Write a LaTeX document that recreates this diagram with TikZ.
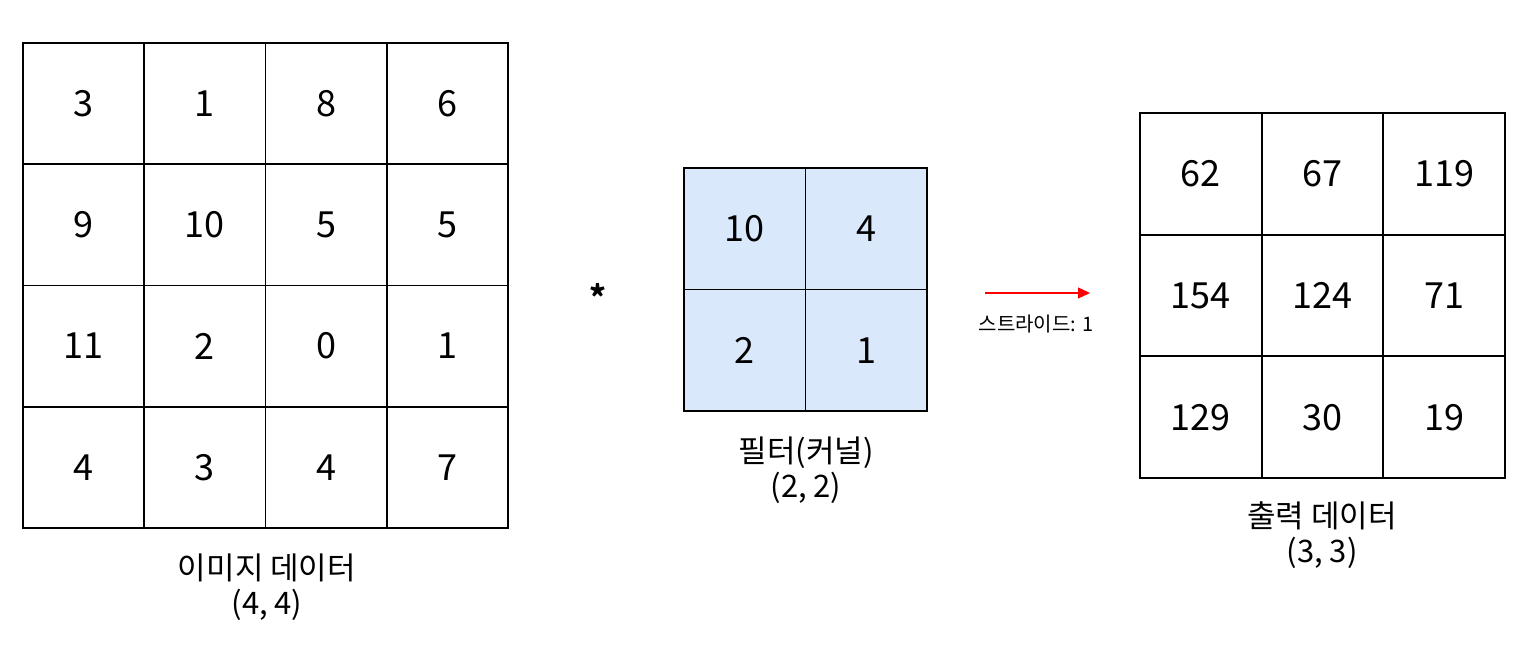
\documentclass[tikz,border=0pt]{standalone}
\usepackage{fontspec}
\setmainfont{Noto Sans CJK KR}
\usetikzlibrary{arrows.meta}
\definecolor{fcol}{HTML}{DAE8FC}
\definecolor{arrred}{HTML}{FF0000}
\begin{document}
\begin{tikzpicture}[x=1pt,y=-1pt,
  cell/.style={draw=black,line width=1.8pt,inner sep=0pt,anchor=center,
    font=\fontsize{36}{40}\selectfont},
  fcell/.style={cell,fill=fcol},
  lbl/.style={font=\fontsize{31}{35}\selectfont,align=center,inner sep=0pt}]
\fill[white] (0,0) rectangle (1526,658);
\useasboundingbox (0,0) rectangle (1526,658);
% image data 4x4
\foreach \v [count=\i from 0] in {3,1,8,6,9,10,5,5,11,2,0,1,4,3,4,7}{
  \pgfmathtruncatemacro{\r}{int(\i/4)}
  \pgfmathtruncatemacro{\c}{mod(\i,4)}
  \node[cell,minimum size=121.25pt] (img-\r-\c) at ({23+121.25*(\c+0.5)},{43+121.25*(\r+0.5)}) {\v};
}
% filter 2x2
\foreach \v [count=\i from 0] in {10,4,2,1}{
  \pgfmathtruncatemacro{\r}{int(\i/2)}
  \pgfmathtruncatemacro{\c}{mod(\i,2)}
  \node[fcell,minimum size=121.5pt] (flt-\r-\c) at ({684+121.5*(\c+0.5)},{168+121.5*(\r+0.5)}) {\v};
}
% output 3x3
\foreach \v [count=\i from 0] in {62,67,119,154,124,71,129,30,19}{
  \pgfmathtruncatemacro{\r}{int(\i/3)}
  \pgfmathtruncatemacro{\c}{mod(\i,3)}
  \node[cell,minimum size=121.67pt] (out-\r-\c) at ({1140+121.67*(\c+0.5)},{113+121.67*(\r+0.5)}) {\v};
}
% labels
\node[lbl] (imglbl) at (267,587) {이미지 데이터\\(4, 4)};
\node[lbl] (fltlbl) at (806,470) {필터(커널)\\(2, 2)};
\node[lbl] (outlbl) at (1322,535) {출력 데이터\\(3, 3)};
% asterisk
\node[font=\fontsize{32}{32}\selectfont\bfseries,inner sep=0pt] (star) at (598,296) {*};
% stride arrow
\coordinate (as) at (985,293);
\coordinate (ae) at (1090,293);
\draw[arrred,line width=1.2pt,-{Triangle[length=12pt,width=11pt]}] (as) -- (ae);
\node[font=\fontsize{20}{22}\selectfont,inner sep=0pt] (stride) at (1036,324) {스트라이드: 1};
\end{tikzpicture}
\end{document}
